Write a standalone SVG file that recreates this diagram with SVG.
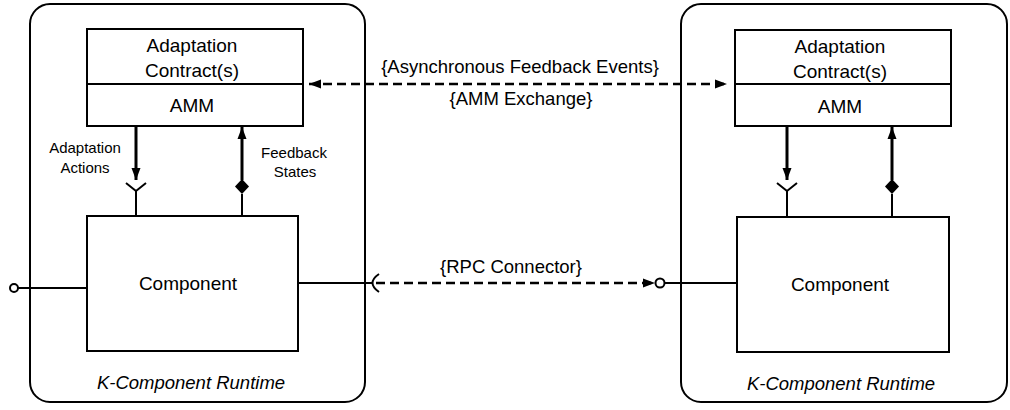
<svg xmlns="http://www.w3.org/2000/svg" width="1010" height="410" viewBox="0 0 1010 410">
<defs>
<style>
.rt{fill:#fff;stroke:#000;stroke-width:2}
.bx{fill:#fff;stroke:#000;stroke-width:2}
.t{font-family:"Liberation Sans",Arial,sans-serif;fill:#000;text-anchor:middle}
.big{font-size:19px}
.lbl{font-size:18.5px}
.sm{font-size:15px}
.it{font-style:italic;font-size:18.5px}
.ln{stroke:#000;stroke-width:2;fill:none}
.th{stroke:#000;stroke-width:3;fill:none}
.ds{stroke:#000;stroke-width:2.5;fill:none;stroke-dasharray:9 5}
.dm{fill:#000}
</style>
<marker id="ah" viewBox="0 0 12 10" refX="12" refY="5" markerWidth="12" markerHeight="10" markerUnits="userSpaceOnUse" orient="auto-start-reverse">
<path d="M0,0.5 L12,5 L0,9.5 Z" fill="#000"/>
</marker>
</defs>

<g id="runtime-left">
<rect class="rt" x="30" y="4" width="335" height="398" rx="20" ry="20"/>
<text class="t it" x="191" y="389">K-Component Runtime</text>
</g>
<g id="runtime-right">
<rect class="rt" x="681" y="4" width="326" height="398" rx="20" ry="20"/>
<text class="t it" x="841" y="390">K-Component Runtime</text>
</g>

<g id="amm-left">
<rect class="bx" x="87" y="29" width="216" height="97"/>
<line class="ln" x1="87" y1="84" x2="303" y2="84"/>
<text class="t big" x="192" y="52">Adaptation</text>
<text class="t big" x="192" y="77">Contract(s)</text>
<text class="t big" x="192" y="112">AMM</text>
</g>
<g id="amm-right">
<rect class="bx" x="735" y="30" width="216" height="96"/>
<line class="ln" x1="735" y1="84" x2="951" y2="84"/>
<text class="t big" x="840" y="53">Adaptation</text>
<text class="t big" x="840" y="78">Contract(s)</text>
<text class="t big" x="840" y="113">AMM</text>
</g>

<g id="component-left">
<rect class="bx" x="87" y="216" width="211" height="135"/>
<text class="t big" x="188" y="290">Component</text>
</g>
<g id="component-right">
<rect class="bx" x="737" y="217" width="212" height="135"/>
<text class="t big" x="840" y="291">Component</text>
</g>

<g id="labels">
<text class="t sm" x="85" y="153">Adaptation</text>
<text class="t sm" x="85" y="173">Actions</text>
<text class="t sm" x="294" y="158">Feedback</text>
<text class="t sm" x="295" y="177">States</text>
<text class="t lbl" x="520" y="73">{Asynchronous Feedback Events}</text>
<text class="t lbl" x="521" y="105">{AMM Exchange}</text>
<text class="t lbl" x="511" y="273">{RPC Connector}</text>
</g>

<g id="connectors">
<line class="th" x1="136" y1="127" x2="136" y2="180" marker-end="url(#ah)"/>
<path class="ln" d="M126,183 L136,191 L146,183 M136,191 L136,216"/>
<line class="th" x1="242" y1="180" x2="242" y2="127" marker-end="url(#ah)"/>
<path class="dm" d="M242,179 L249,186.5 L242,194 L235,186.5 Z"/>
<line class="ln" x1="242" y1="194" x2="242" y2="216"/>
<line class="th" x1="787" y1="127" x2="787" y2="180" marker-end="url(#ah)"/>
<path class="ln" d="M777,183 L787,191 L797,183 M787,191 L787,217"/>
<line class="th" x1="892" y1="180" x2="892" y2="127" marker-end="url(#ah)"/>
<path class="dm" d="M892,179 L899,186.5 L892,194 L885,186.5 Z"/>
<line class="ln" x1="892" y1="194" x2="892" y2="217"/>
<line class="ds" x1="309" y1="84" x2="727" y2="84" marker-start="url(#ah)" marker-end="url(#ah)"/>
<circle cx="14" cy="288" r="4" fill="#fff" stroke="#000" stroke-width="2"/>
<line class="ln" x1="18" y1="288" x2="87" y2="288"/>
<line class="ln" x1="298" y1="283" x2="373" y2="283"/>
<path class="ln" d="M379,274 Q366,283 379,292"/>
<line class="ds" x1="376" y1="283" x2="655" y2="283" marker-end="url(#ah)"/>
<circle cx="660" cy="283" r="4.5" fill="#fff" stroke="#000" stroke-width="2"/>
<line class="ln" x1="664.5" y1="283" x2="737" y2="283"/>
</g>
</svg>
